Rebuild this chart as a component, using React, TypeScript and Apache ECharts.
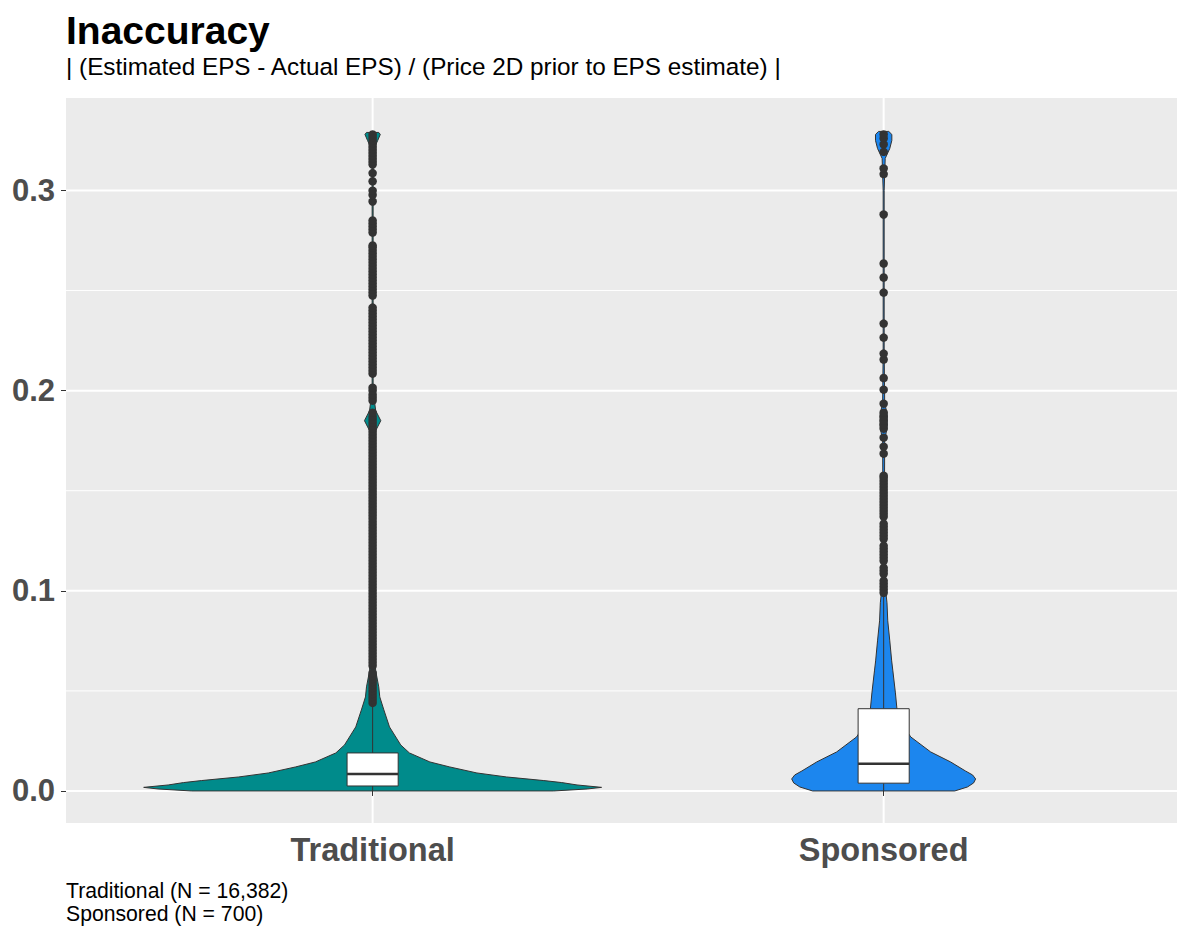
import React, { useEffect, useRef } from "react";
import * as echarts from "echarts";

// Groups and their sizes
const categories = ["Traditional", "Sponsored"];
const groupSizes = [16382, 700];

// Violin outlines: value levels and half-widths (in category units)
const tradDensityY = [0.0, 0.001, 0.0018, 0.003, 0.0042, 0.0052, 0.007, 0.009, 0.012, 0.0145, 0.019, 0.023, 0.032, 0.0405, 0.047, 0.052, 0.06, 0.07, 0.09, 0.17, 0.18, 0.185, 0.19, 0.2, 0.32, 0.325, 0.328, 0.329];
const tradDensityW = [0.354, 0.42, 0.448, 0.4, 0.37, 0.335, 0.262, 0.204, 0.151, 0.112, 0.072, 0.055, 0.033, 0.022, 0.014, 0.012, 0.006, 0.003, 0.0015, 0.001, 0.006, 0.016, 0.006, 0.001, 0.001, 0.01, 0.015, 0.012];

const sponDensityY = [0.0, 0.002, 0.004, 0.006, 0.008, 0.01, 0.0145, 0.0195, 0.027, 0.034, 0.041, 0.049, 0.06, 0.065, 0.075, 0.085, 0.094, 0.1, 0.11, 0.14, 0.175, 0.182, 0.188, 0.194, 0.22, 0.3, 0.316, 0.321, 0.325, 0.328, 0.3295];
const sponDensityW = [0.139, 0.164, 0.176, 0.18, 0.174, 0.16, 0.131, 0.092, 0.053, 0.035, 0.026, 0.023, 0.018, 0.0157, 0.012, 0.008, 0.0065, 0.004, 0.002, 0.0015, 0.002, 0.007, 0.007, 0.002, 0.001, 0.001, 0.003, 0.012, 0.016, 0.016, 0.01];

// Box statistics: lower whisker, Q1, median, Q3, upper whisker
const tradBox = [0.0, 0.0025, 0.0085, 0.019, 0.044];
const sponBox = [0.0, 0.0039, 0.0136, 0.0411, 0.097];

// Outlying observations
const tradOutliers = [
  0.044, 0.0455, 0.047, 0.0485, 0.05, 0.0515, 0.053, 0.0545, 0.056, 0.0575, 0.059, 0.0625, 0.064,
  0.0655, 0.067, 0.0685, 0.07, 0.0715, 0.073, 0.0745, 0.076, 0.0775, 0.079, 0.0805, 0.082, 0.0835,
  0.085, 0.0865, 0.088, 0.0895, 0.091, 0.0925, 0.094, 0.0955, 0.097, 0.0985, 0.1, 0.1015, 0.103,
  0.1045, 0.106, 0.1075, 0.109, 0.1105, 0.112, 0.1135, 0.115, 0.1165, 0.118, 0.1195, 0.121, 0.1225,
  0.124, 0.1255, 0.127, 0.1285, 0.13, 0.1315, 0.133, 0.1345, 0.136, 0.1375, 0.139, 0.1405, 0.142,
  0.1435, 0.145, 0.1465, 0.148, 0.1495, 0.151, 0.1525, 0.154, 0.1555, 0.157, 0.1585, 0.16, 0.1615,
  0.163, 0.1645, 0.166, 0.1675, 0.169, 0.1705, 0.172, 0.1735, 0.175, 0.1765, 0.178, 0.1795, 0.181,
  0.1825, 0.184, 0.1855, 0.187, 0.189,
  0.195, 0.1965, 0.198, 0.2, 0.2015,
  0.2085, 0.21, 0.2115, 0.213, 0.2145, 0.216, 0.2175, 0.219, 0.2205, 0.222, 0.2235, 0.225, 0.2265,
  0.228, 0.2295, 0.231, 0.2325, 0.234, 0.2355, 0.237, 0.2385, 0.24, 0.2415,
  0.2475, 0.249, 0.2505, 0.252, 0.2535, 0.255, 0.2565, 0.258, 0.2595, 0.261, 0.2625, 0.264, 0.2655,
  0.267, 0.2685, 0.27, 0.2715, 0.2725,
  0.279, 0.2805, 0.282, 0.2835, 0.285,
  0.2945, 0.2978, 0.2999, 0.3046, 0.3087,
  0.313, 0.3145, 0.316, 0.3175, 0.319, 0.3205, 0.322, 0.3235, 0.325, 0.3265, 0.328,
];
const sponOutliers = [
  0.099, 0.1005, 0.102, 0.1035, 0.105, 0.1085, 0.11, 0.1115, 0.115, 0.1165, 0.118, 0.1195, 0.121,
  0.1225, 0.126, 0.1275, 0.129, 0.1305, 0.132, 0.1335, 0.137, 0.1385, 0.14, 0.1415, 0.143, 0.1445,
  0.146, 0.1475, 0.149, 0.1505, 0.152, 0.1535, 0.155, 0.1565, 0.1575,
  0.1685, 0.172, 0.1765, 0.181, 0.183, 0.185, 0.187, 0.189, 0.1935, 0.2005, 0.2063, 0.2155, 0.2185,
  0.2265, 0.2335, 0.249, 0.2565, 0.2635, 0.288, 0.3082, 0.311, 0.3193, 0.323, 0.326, 0.328,
];

// Axis ticks and grid lines
const yTicks = [0, 0.1, 0.2, 0.3];
const yMinorTicks = [0.05, 0.15, 0.25];
const xTicks = [1, 2];

const titleText = "Inaccuracy";
const subtitleText = "| (Estimated EPS - Actual EPS) / (Price 2D prior to EPS estimate) |";

const FONT = "'Liberation Sans', Arial, Helvetica, sans-serif";
const fills = ["#008B8B", "#1C86EE"];
const INK = "#333333";

export default function App() {
  const ref = useRef<HTMLDivElement>(null);

  useEffect(() => {
    if (!ref.current) return;
    const chart = echarts.init(ref.current, null, { renderer: "svg" });

    const X_MIN = 0.4;
    const X_MAX = 2.574;
    const Y_MIN = -0.016;
    const Y_MAX = 0.3462;

    const profiles = [
      { ys: tradDensityY, ws: tradDensityW },
      { ys: sponDensityY, ws: sponDensityW },
    ];
    const boxes = [tradBox, sponBox];
    const outliers = [tradOutliers, sponOutliers];

    const option: any = {
      animation: false,
      grid: {
        left: 66,
        right: 0,
        top: 98,
        bottom: 103,
        show: true,
        backgroundColor: "#EBEBEB",
        borderWidth: 0,
      },
      xAxis: {
        type: "value",
        min: X_MIN,
        max: X_MAX,
        axisLine: { show: false },
        splitLine: { show: false },
        axisTick: { show: true, customValues: xTicks, length: 5, lineStyle: { color: INK, width: 1 } },
        axisLabel: {
          customValues: xTicks,
          formatter: (v: number) => categories[Math.round(v) - 1] ?? "",
          fontFamily: FONT,
          fontSize: 32.5,
          fontWeight: "bold",
          color: "#4D4D4D",
          margin: 10,
        },
      },
      yAxis: {
        type: "value",
        min: Y_MIN,
        max: Y_MAX,
        axisLine: { show: false },
        splitLine: { show: false },
        axisTick: { show: true, customValues: yTicks, length: 5, lineStyle: { color: INK, width: 1 } },
        axisLabel: {
          customValues: yTicks,
          formatter: (v: number) => v.toFixed(1),
          fontFamily: FONT,
          fontSize: 31,
          fontWeight: "bold",
          color: "#4D4D4D",
          margin: 11,
        },
      },
      graphic: [
        {
          type: "text",
          style: { text: titleText, x: 66, y: 30, verticalAlign: "middle", font: `bold 39px ${FONT}`, fill: "#000000" },
        },
        {
          type: "text",
          style: { text: subtitleText, x: 66, y: 66.6, verticalAlign: "middle", font: `24.3px ${FONT}`, fill: "#000000" },
        },
        ...categories.map((c, i) => ({
          type: "text",
          style: {
            text: `${c} (N = ${groupSizes[i].toLocaleString("en-US")})`,
            x: 66,
            y: 890.7 + i * 23,
            verticalAlign: "middle",
            font: `21.2px ${FONT}`,
            fill: "#000000",
          },
        })),
      ],
      series: [
        // horizontal grid lines (major and minor)
        {
          type: "custom",
          z: 0,
          silent: true,
          data: [...yTicks.map((v) => [v, 1]), ...yMinorTicks.map((v) => [v, 0])],
          renderItem: (params: any, api: any) => {
            const v = api.value(0);
            const major = api.value(1) === 1;
            const cs = params.coordSys;
            const y = api.coord([X_MIN, v])[1];
            return {
              type: "line",
              shape: { x1: cs.x, y1: y, x2: cs.x + cs.width, y2: y },
              style: { stroke: "#FFFFFF", lineWidth: major ? 2 : 1 },
            };
          },
        },
        // vertical grid lines at the categories
        {
          type: "custom",
          z: 0,
          silent: true,
          data: xTicks.map((v) => [v, 0]),
          renderItem: (params: any, api: any) => {
            const v = api.value(0);
            const cs = params.coordSys;
            const x = api.coord([v, 0])[0];
            return {
              type: "line",
              shape: { x1: x, y1: cs.y, x2: x, y2: cs.y + cs.height },
              style: { stroke: "#FFFFFF", lineWidth: 2 },
            };
          },
        },
        // violins
        {
          type: "custom",
          z: 2,
          silent: true,
          data: xTicks.map((v) => [v, 0]),
          renderItem: (params: any, api: any) => {
            const c = api.value(0);
            const p = profiles[params.dataIndex];
            const pts: number[][] = [];
            for (let i = 0; i < p.ys.length; i++) pts.push(api.coord([c + p.ws[i], p.ys[i]]));
            for (let i = p.ys.length - 1; i >= 0; i--) pts.push(api.coord([c - p.ws[i], p.ys[i]]));
            return {
              type: "polygon",
              shape: { points: pts },
              style: { fill: fills[params.dataIndex], stroke: INK, lineWidth: 1 },
            };
          },
        },
        // box plots
        {
          type: "custom",
          z: 3,
          silent: true,
          data: xTicks.map((v) => [v, 0]),
          renderItem: (params: any, api: any) => {
            const c = api.value(0);
            const b = boxes[params.dataIndex];
            const half = 0.05;
            const [lo, q1, med, q3, hi] = b;
            const tl = api.coord([c - half, q3]);
            const br = api.coord([c + half, q1]);
            const mL = api.coord([c - half, med]);
            const mR = api.coord([c + half, med]);
            const wTop = api.coord([c, hi]);
            const wQ3 = api.coord([c, q3]);
            const wQ1 = api.coord([c, q1]);
            const wBot = api.coord([c, lo]);
            return {
              type: "group",
              children: [
                {
                  type: "line",
                  shape: { x1: wQ3[0], y1: wQ3[1], x2: wTop[0], y2: wTop[1] },
                  style: { stroke: INK, lineWidth: 1 },
                },
                {
                  type: "line",
                  shape: { x1: wQ1[0], y1: wQ1[1], x2: wBot[0], y2: wBot[1] },
                  style: { stroke: INK, lineWidth: 1 },
                },
                {
                  type: "rect",
                  shape: { x: tl[0], y: tl[1], width: br[0] - tl[0], height: br[1] - tl[1] },
                  style: { fill: "#FFFFFF", stroke: INK, lineWidth: 1 },
                },
                {
                  type: "line",
                  shape: { x1: mL[0], y1: mL[1], x2: mR[0], y2: mR[1] },
                  style: { stroke: INK, lineWidth: 2.4 },
                },
              ],
            };
          },
        },
        // outliers
        ...outliers.map((arr, i) => ({
          type: "scatter",
          z: 4,
          silent: true,
          symbol: "circle",
          symbolSize: 8.5,
          itemStyle: { color: INK, opacity: 1 },
          data: arr.map((v) => [xTicks[i], v]),
        })),
      ],
    };

    chart.setOption(option);
    return () => chart.dispose();
  }, []);

  return (
    <div
      ref={ref}
      style={{ position: "absolute", left: 0, top: 0, width: 1177, height: 926 }}
    />
  );
}
